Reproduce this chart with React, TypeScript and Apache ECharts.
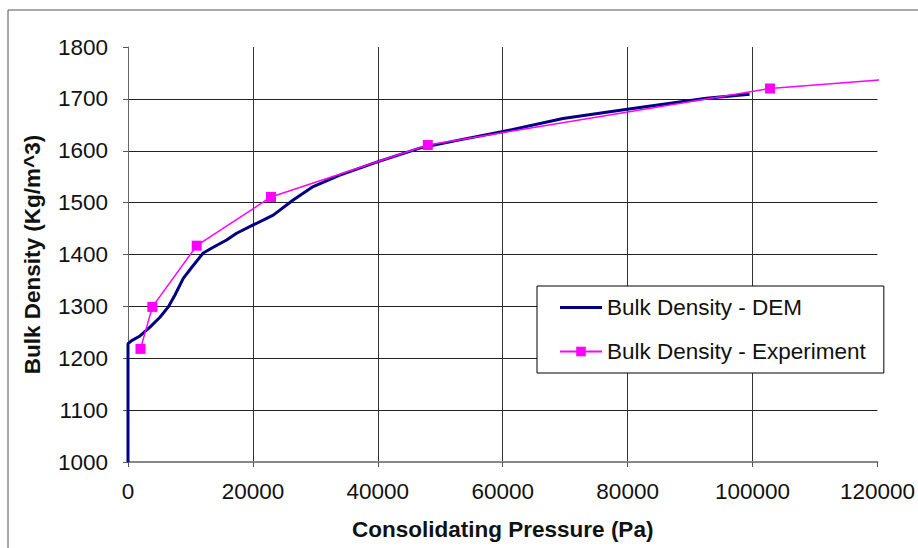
import React, { useEffect, useRef } from "react";
import * as echarts from "echarts";

const demData: [number, number][] = [
  [0, 1000], [0, 1228], [590, 1234], [1920, 1243], [3520, 1260], [5120, 1279],
  [6450, 1299], [7520, 1322], [8850, 1354], [10190, 1375], [12050, 1403],
  [13650, 1414], [15790, 1428], [17390, 1441], [20050, 1457], [23250, 1476],
  [26450, 1505], [29650, 1531], [33920, 1553], [40050, 1579], [46720, 1605],
  [53120, 1621], [60050, 1637], [69650, 1662], [79950, 1680], [92600, 1701],
  [99520, 1709],
];

const expData: [number, number][] = [
  [2000, 1218], [3900, 1299], [11000, 1417], [22900, 1511], [48000, 1611],
  [102800, 1720], [121000, 1737],
];

const seriesNames = ["Bulk Density - DEM", "Bulk Density - Experiment"];
const xTitle = "Consolidating Pressure (Pa)";
const yTitle = "Bulk Density (Kg/m^3)";

const FONT = "'Liberation Sans', Arial, sans-serif";
const FS = 22.5;

export default function App() {
  const ref = useRef<HTMLDivElement>(null);
  useEffect(() => {
    if (!ref.current) return;
    const chart = echarts.init(ref.current, undefined, { renderer: "svg" });
    chart.setOption({
      animation: false,
      backgroundColor: "#ffffff",
      textStyle: { fontFamily: FONT },
      grid: { left: 128, top: 47, right: 40, bottom: 86 },
      graphic: [
        {
          type: "rect",
          z: -10,
          silent: true,
          shape: { x: 8, y: 10, width: 1000, height: 700 },
          style: { fill: "none", stroke: "#555", lineWidth: 1 },
        },
      ],
      legend: {
        orient: "vertical",
        left: 537,
        top: 286,
        padding: [10, 18, 10, 22],
        itemGap: 21,
        itemWidth: 42,
        itemHeight: 12,
        backgroundColor: "#ffffff",
        borderColor: "#000",
        borderWidth: 1,
        borderRadius: 0,
        textStyle: { fontSize: FS, fontFamily: FONT, color: "#111", lineHeight: 22 },
        data: [
          { name: seriesNames[0], icon: "path://M0,0 L42,0 L42,3 L0,3 Z" },
          { name: seriesNames[1] },
        ],
      },
      xAxis: {
        type: "value",
        min: 0,
        max: 120000,
        interval: 20000,
        name: xTitle,
        nameLocation: "middle",
        nameGap: 56,
        nameTextStyle: { fontSize: FS, fontWeight: "bold", color: "#111", fontFamily: FONT },
        axisLine: { show: true, onZero: false, lineStyle: { color: "#888", width: 2 } },
        axisTick: { show: true, inside: false, length: 5, lineStyle: { color: "#555" } },
        axisLabel: {
          margin: 18,
          fontSize: FS,
          color: "#111",
          fontFamily: FONT,
          formatter: (v: number) => String(v),
        },
        splitLine: { show: true, showMaxLine: false, lineStyle: { color: "#333", width: 1 } },
      },
      yAxis: {
        type: "value",
        min: 1000,
        max: 1800,
        interval: 100,
        name: yTitle,
        nameLocation: "middle",
        nameGap: 84,
        nameTextStyle: { fontSize: FS, fontWeight: "bold", color: "#111", fontFamily: FONT },
        axisLine: { show: true, lineStyle: { color: "#666", width: 1 } },
        axisTick: { show: true, inside: false, length: 5, lineStyle: { color: "#555" } },
        axisLabel: {
          margin: 20,
          fontSize: FS,
          color: "#111",
          fontFamily: FONT,
          formatter: (v: number) => String(v),
        },
        splitLine: { show: true, showMaxLine: false, lineStyle: { color: "#222", width: 1 } },
      },
      series: [
        {
          name: seriesNames[0],
          type: "line",
          data: demData,
          showSymbol: false,
          symbol: "none",
          z: 3,
          lineStyle: { color: "#000080", width: 3 },
          itemStyle: { color: "#000080" },
        },
        {
          name: seriesNames[1],
          type: "line",
          clip: false,
          z: 4,
          data: expData.map((d, i) =>
            i === expData.length - 1 ? { value: d, symbol: "none" } : { value: d }
          ),
          symbol: "rect",
          symbolSize: 10,
          lineStyle: { color: "#ff00ff", width: 1.5 },
          itemStyle: { color: "#ff00ff" },
        },
      ],
    });
    return () => chart.dispose();
  }, []);
  return (
    <div
      ref={ref}
      style={{ position: "fixed", left: 0, top: 0, width: 918, height: 548, background: "#fff" }}
    />
  );
}
